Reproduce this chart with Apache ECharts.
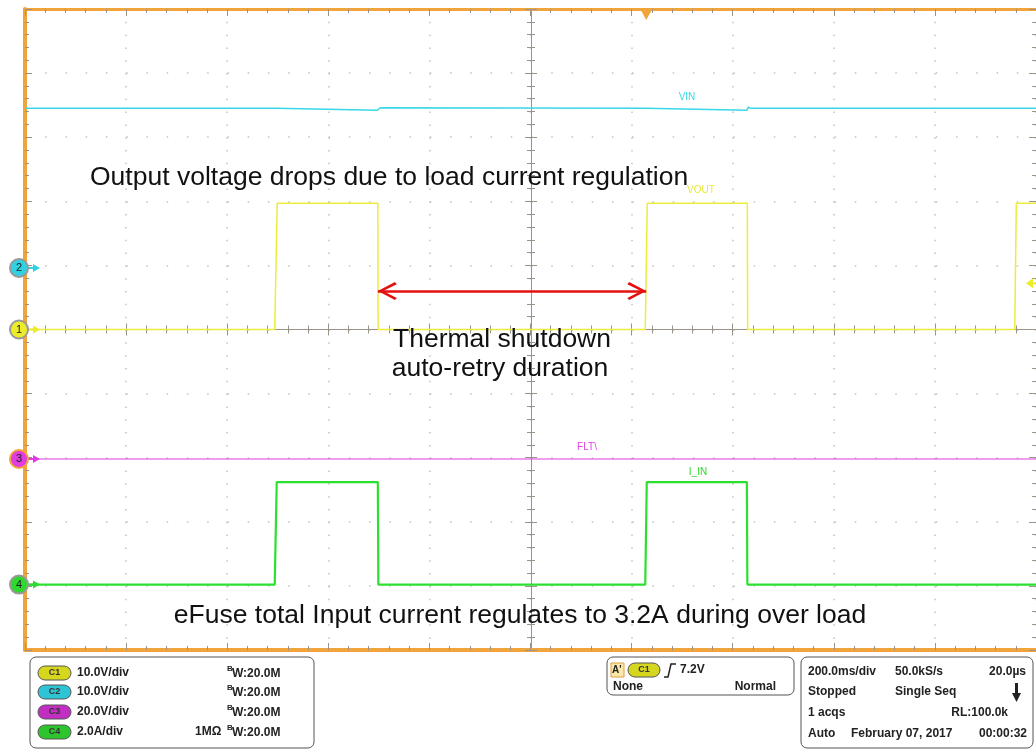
<!DOCTYPE html>
<html lang="en">
<head>
<meta charset="utf-8">
<title>eFuse thermal shutdown auto-retry</title>
<script src="https://cdn.jsdelivr.net/npm/echarts@6/dist/echarts.min.js"></script>
<style>
    html, body, #main {
        width: 100%;
        height: 100%;
        margin: 0;
        padding: 0;
        overflow: hidden;
        background: #ffffff;
    }
</style>
</head>
<body>
<div id="main"></div>
<script>
    // time in ms, 200 ms/div, 10 divisions on screen
    var timeMin = 0, timeMax = 2000, timeDiv = 200;

    // C2 VIN (V)
    var vinTime = [0, 497, 500, 697, 700, 703, 1228, 1231, 1428, 1431, 1436, 2000];
    var vinVolt = [24.9, 24.9, 24.6, 24.6, 24.9, 25.0, 24.9, 24.6, 24.6, 25.1, 24.9, 24.9];

    // C1 VOUT (V)
    var voutTime = [0, 494, 499, 698, 698.5, 1227, 1231, 1429, 1429.5, 1958, 1961, 2000];
    var voutVolt = [0, 0, 19.7, 19.7, 0, 0, 19.7, 19.7, 0, 0, 19.7, 19.7];

    // C3 FLT\ (V)
    var fltTime = [0, 2000];
    var fltVolt = [0, 0];

    // C4 I_IN (A)
    var iinTime = [0, 494, 498, 698, 699, 1227, 1230, 1428, 1429, 2000];
    var iinAmp = [0, 0, 3.2, 3.2, 0, 0, 3.2, 3.2, 0, 0];

    // channel scale (units/div) and ground position (div from centre)
    var chScale = {c1: 10, c2: 10, c3: 20, c4: 2};
    var chOffset = {c1: 0, c2: 0.96, c3: -2.02, c4: -3.98};

    // thermal shutdown auto-retry span and trigger
    var retryStart = 698, retryEnd = 1229;
    var trigTime = 1229, trigLevel = 7.2;

    var ORANGE = '#f2a43c';
    var GRIDC = '#c2c2c2';
    var AXC = '#9a9488';
    var FONT = '"Liberation Sans", Arial, sans-serif';

    function toDiv(times, vals, ch) {
        return times.map(function (t, i) {
            return [t, chOffset[ch] + vals[i] / chScale[ch]];
        });
    }

    function xAx(o) {
        var a = {
            type: 'value', min: timeMin, max: timeMax, interval: timeDiv,
            axisLabel: {show: false},
            splitLine: {show: false},
            axisLine: {show: false, onZero: false},
            axisTick: {show: true, inside: true, length: 7, lineStyle: {color: AXC}},
            minorTick: {show: true, splitNumber: 5, length: 4, lineStyle: {color: AXC}}
        };
        return Object.assign(a, o);
    }

    function yAx(o) {
        var a = {
            type: 'value', min: -5, max: 5, interval: 1,
            axisLabel: {show: false},
            splitLine: {show: false},
            axisLine: {show: false, onZero: false},
            axisTick: {show: true, inside: true, length: 7, lineStyle: {color: AXC}},
            minorTick: {show: true, splitNumber: 5, length: 4, lineStyle: {color: AXC}}
        };
        return Object.assign(a, o);
    }

    function txt(x, y, s, o) {
        return {
            type: 'text', x: x, y: y, z: 50,
            style: Object.assign({
                text: s, fill: '#222', font: 'bold 12px ' + FONT,
                verticalAlign: 'middle', align: 'left'
            }, o || {})
        };
    }

    function pill(x, y, w, label, color) {
        return [
            {type: 'rect', z: 50, shape: {x: x, y: y - 7, width: w, height: 14, r: 7},
                style: {fill: color, stroke: '#555', lineWidth: 1}},
            txt(x + w / 2, y, label, {font: 'bold 9px ' + FONT, align: 'center', fill: '#333'})
        ];
    }

    function bw(x, y) {
        return [
            txt(x, y - 4, 'B', {font: 'bold 8px ' + FONT}),
            txt(x + 5, y + 1, 'W:20.0M')
        ];
    }

    var dom = document.getElementById('main');
    var myChart = echarts.init(dom);

    var panel = [];
    // channel box
    panel.push({type: 'rect', z: 40, shape: {x: 30, y: 657, width: 284, height: 91, r: 6},
        style: {fill: '#fff', stroke: '#555', lineWidth: 1}});
    var rows1 = [673, 692, 712, 732];
    var chRows = [['C1', '#d6d61e', '10.0V/div'], ['C2', '#2ec4d6', '10.0V/div'],
        ['C3', '#c22ec2', '20.0V/div'], ['C4', '#2ec42e', '2.0A/div']];
    chRows.forEach(function (r, i) {
        panel = panel.concat(pill(38, rows1[i], 33, r[0], r[1]));
        panel.push(txt(77, rows1[i], r[2]));
        panel = panel.concat(bw(227, rows1[i]));
    });
    panel.push(txt(195, rows1[3], '1MΩ'));

    // trigger box
    panel.push({type: 'rect', z: 40, shape: {x: 607, y: 657, width: 187, height: 38, r: 6},
        style: {fill: '#fff', stroke: '#555', lineWidth: 1}});
    panel.push({type: 'rect', z: 50, shape: {x: 611, y: 663, width: 13, height: 14},
        style: {fill: '#fbe7a8', stroke: '#e0a040', lineWidth: 1}});
    panel.push(txt(612, 670, "A'", {font: 'bold 10px ' + FONT}));
    panel = panel.concat(pill(628, 670, 32, 'C1', '#d6d61e'));
    panel.push({type: 'polyline', z: 50, shape: {points: [[664, 677], [668, 677], [671, 664], [676, 664]]},
        style: {stroke: '#222', lineWidth: 1.5, fill: null}});
    panel.push(txt(680, 670, '7.2V'));
    panel.push(txt(613, 687, 'None'));
    panel.push(txt(776, 687, 'Normal', {align: 'right'}));

    // timebase box
    panel.push({type: 'rect', z: 40, shape: {x: 801, y: 657, width: 232, height: 91, r: 6},
        style: {fill: '#fff', stroke: '#555', lineWidth: 1}});
    var rows3 = [672, 692, 713, 734];
    panel.push(txt(808, rows3[0], '200.0ms/div'));
    panel.push(txt(895, rows3[0], '50.0kS/s'));
    panel.push(txt(1026, rows3[0], '20.0µs', {align: 'right'}));
    panel.push(txt(808, rows3[1], 'Stopped'));
    panel.push(txt(895, rows3[1], 'Single Seq'));
    panel.push({type: 'rect', z: 50, shape: {x: 1015, y: 683, width: 3, height: 12}, style: {fill: '#222'}});
    panel.push({type: 'polygon', z: 50, shape: {points: [[1012, 693], [1021, 693], [1016.5, 702]]}, style: {fill: '#222'}});
    panel.push(txt(808, rows3[2], '1 acqs'));
    panel.push(txt(1008, rows3[2], 'RL:100.0k', {align: 'right'}));
    panel.push(txt(808, rows3[3], 'Auto'));
    panel.push(txt(851, rows3[3], 'February 07, 2017'));
    panel.push(txt(1027, rows3[3], '00:00:32', {align: 'right'}));

    // annotations
    var notes = [
        txt(90, 178, 'Output voltage drops due to load current regulation', {font: '26.5px ' + FONT, fill: '#111'}),
        txt(502, 340, 'Thermal shutdown', {font: '26.5px ' + FONT, fill: '#111', align: 'center'}),
        txt(500, 369, 'auto-retry duration', {font: '26.5px ' + FONT, fill: '#111', align: 'center'}),
        txt(520, 616, 'eFuse total Input current regulates to 3.2A during over load', {font: '26.5px ' + FONT, fill: '#111', align: 'center'}),
        txt(687, 97, 'VIN', {font: '10px ' + FONT, fill: '#3ad6e6', align: 'center'}),
        txt(701, 190, 'VOUT', {font: '10px ' + FONT, fill: '#e8e840', align: 'center'}),
        txt(587, 447, 'FLT\\', {font: '10px ' + FONT, fill: '#e040e0', align: 'center'}),
        txt(698, 472, 'I_IN', {font: '10px ' + FONT, fill: '#30d830', align: 'center'})
    ];

    var chevron = 'path://M10,0 L20,18 L17.6,20 L10,5.5 L2.4,20 L0,18 Z M10,-20 L10,-20 Z';

    var option = {
        animation: false,
        backgroundColor: '#ffffff',
        grid: {left: 25, top: 9, width: 1012, height: 641, show: false},
        xAxis: [
            xAx({position: 'bottom',
                axisLine: {show: true, onZero: false, lineStyle: {color: ORANGE, width: 4}},
                splitLine: {show: true, lineStyle: {color: GRIDC, width: 1.5, type: [1.5, 11.32]}}}),
            xAx({position: 'top',
                axisLine: {show: true, onZero: false, lineStyle: {color: ORANGE, width: 3}}}),
            xAx({position: 'bottom', offset: -320.5,
                axisLine: {show: true, onZero: false, lineStyle: {color: AXC, width: 1}},
                axisTick: {show: true, inside: true, length: 6, lineStyle: {color: AXC}}}),
            xAx({position: 'bottom', offset: -320.5,
                axisTick: {show: true, inside: false, length: 6, lineStyle: {color: AXC}}})
        ],
        yAxis: [
            yAx({position: 'left',
                axisLine: {show: true, onZero: false, lineStyle: {color: ORANGE, width: 4}},
                splitLine: {show: true, lineStyle: {color: GRIDC, width: 1.5, type: [1.5, 18.74]}}}),
            yAx({position: 'right'}),
            yAx({position: 'left', offset: -506,
                axisLine: {show: true, onZero: false, lineStyle: {color: AXC, width: 1}},
                axisTick: {show: true, inside: true, length: 6, lineStyle: {color: AXC}}}),
            yAx({position: 'left', offset: -506,
                axisTick: {show: true, inside: false, length: 6, lineStyle: {color: AXC}}})
        ],
        series: [
            {
                name: 'VIN', type: 'line', showSymbol: false, z: 3,
                lineStyle: {color: '#38d8e8', width: 1.5},
                data: toDiv(vinTime, vinVolt, 'c2')
            },
            {
                name: 'FLT\\', type: 'line', showSymbol: false, z: 3,
                lineStyle: {color: '#e03ce0', width: 1.2},
                data: toDiv(fltTime, fltVolt, 'c3')
            },
            {
                name: 'I_IN', type: 'line', showSymbol: false, z: 3,
                lineStyle: {color: '#2ee02e', width: 2.2},
                data: toDiv(iinTime, iinAmp, 'c4')
            },
            {
                name: 'VOUT', type: 'line', showSymbol: false, z: 4,
                lineStyle: {color: '#ecec3c', width: 1.5},
                data: toDiv(voutTime, voutVolt, 'c1'),
                markLine: {
                    silent: true,
                    symbol: [chevron, chevron],
                    symbolSize: [18, 38],
                    label: {show: false},
                    lineStyle: {color: '#e41010', width: 2.5, type: 'solid'},
                    data: [[
                        {coord: [retryStart, chOffset.c1 + 0.6]},
                        {coord: [retryEnd, chOffset.c1 + 0.6]}
                    ]]
                }
            }
        ],
        graphic: panel.concat(notes)
    };
    myChart.setOption(option);

    // channel ground markers, trigger markers
    function yPix(d) { return myChart.convertToPixel({yAxisIndex: 0}, d); }
    var markers = [];
    var chs = [['c1', '1', '#ecec2a', '#999'], ['c2', '2', '#30d2e2', '#999'],
        ['c3', '3', '#e03ce0', ORANGE], ['c4', '4', '#2ed82e', '#999']];
    chs.forEach(function (c) {
        var y = yPix(chOffset[c[0]]);
        markers.push({type: 'line', z: 60, shape: {x1: 28, y1: y, x2: 34, y2: y},
            style: {stroke: c[2], lineWidth: 2}});
        markers.push({type: 'polygon', z: 60, shape: {points: [[33, y - 4], [40, y], [33, y + 4]]},
            style: {fill: c[2]}});
        markers.push({type: 'circle', z: 61, shape: {cx: 19, cy: y, r: 9},
            style: {fill: c[2], stroke: c[3], lineWidth: 2}});
        markers.push({type: 'text', z: 62, x: 19, y: y,
            style: {text: c[1], font: '11px ' + FONT, fill: '#222', align: 'center', verticalAlign: 'middle'}});
    });
    var tx = myChart.convertToPixel({xAxisIndex: 0}, trigTime);
    markers.push({type: 'polygon', z: 60, shape: {points: [[tx - 6, 9], [tx + 6, 9], [tx, 20]]},
        style: {fill: ORANGE}});
    var ty = yPix(chOffset.c1 + trigLevel / chScale.c1);
    markers.push({type: 'polygon', z: 60, shape: {points: [[1026, ty], [1033, ty - 5], [1033, ty + 5]]},
        style: {fill: '#ecec2a'}});
    markers.push({type: 'line', z: 60, shape: {x1: 1032, y1: ty, x2: 1036, y2: ty},
        style: {stroke: '#ecec2a', lineWidth: 2}});

    myChart.setOption({graphic: panel.concat(notes).concat(markers)});
</script>
</body>
</html>
